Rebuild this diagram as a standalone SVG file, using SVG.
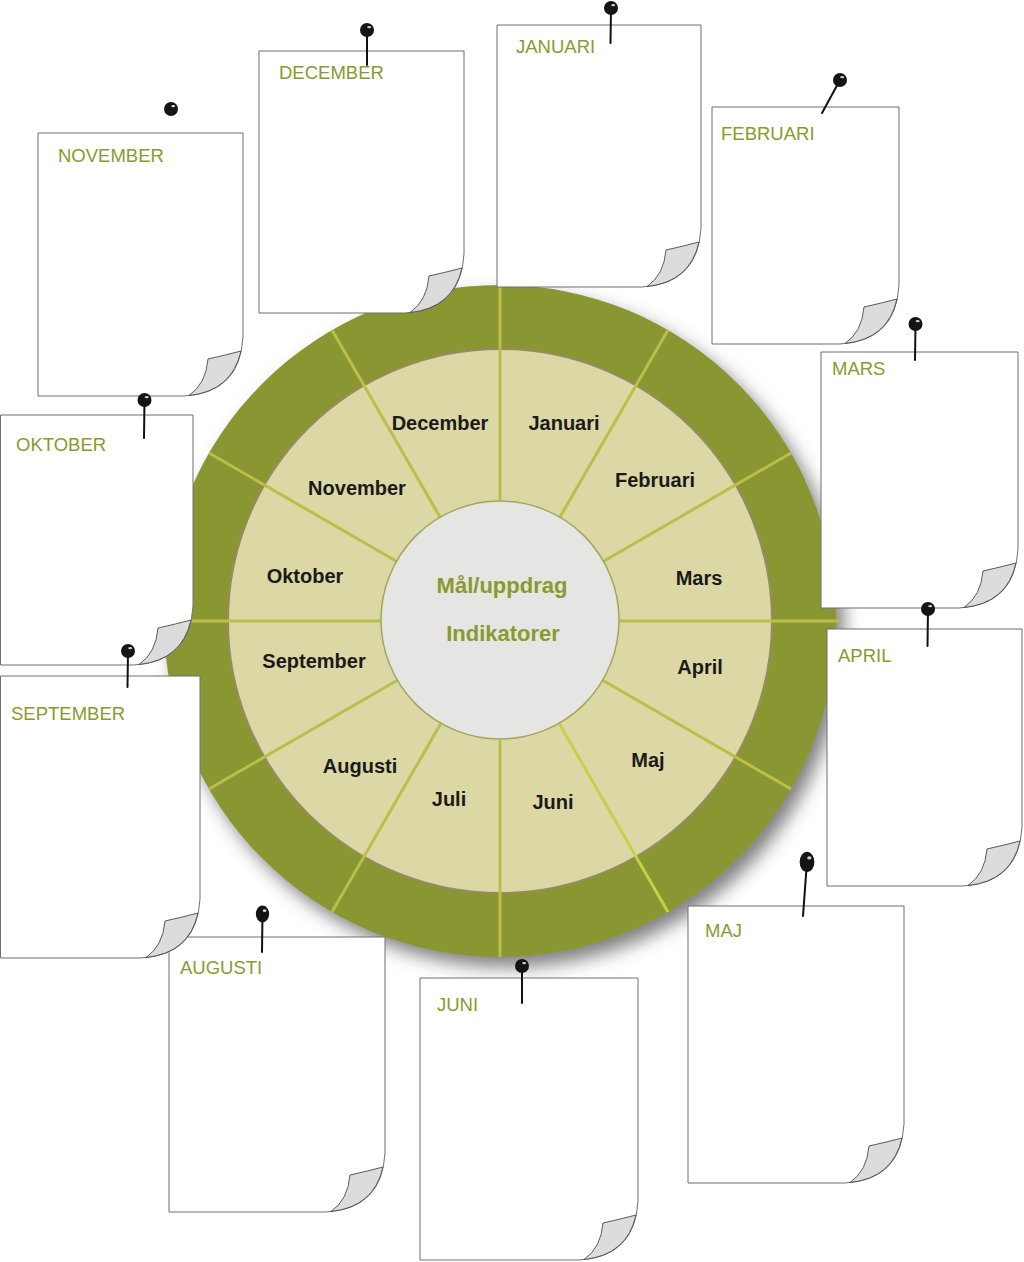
<svg xmlns="http://www.w3.org/2000/svg" xmlns:xlink="http://www.w3.org/1999/xlink" width="1024" height="1262" viewBox="0 0 1024 1262">
<style>
.note{fill:#ffffff;stroke:#6e6e6e;stroke-width:1}
.fold{fill:#dcdcdc;stroke:#4a4a4a;stroke-width:0.9}
.ntitle{font-family:"Liberation Sans",Arial,sans-serif;font-size:18.5px;fill:#8a9a2e}
.stem{stroke:#111;stroke-width:2;stroke-linecap:round}
.wl{font-family:"Liberation Sans",Arial,sans-serif;font-size:20px;font-weight:bold;fill:#1a1a1a;text-anchor:middle}
.cl{font-family:"Liberation Sans",Arial,sans-serif;font-size:22px;font-weight:bold;fill:#8a9a2e;text-anchor:middle}
.div{stroke:#bcbe4a;stroke-width:3}
</style>
<defs>
<filter id="sh" x="-20%" y="-20%" width="140%" height="140%">
<feGaussianBlur in="SourceAlpha" stdDeviation="9"/>
<feOffset dx="8" dy="10" result="b"/>
<feFlood flood-color="#555" flood-opacity="0.75"/>
<feComposite in2="b" operator="in"/>
<feMerge><feMergeNode/><feMergeNode in="SourceGraphic"/></feMerge>
</filter>
<path id="fold" class="fold" d="M-35,-37 Q-17,-41 -2,-45 Q-11,-5 -54,-0.5 Q-37,-12 -35,-37 Z"/>
<g id="pin"><circle r="7" fill="#141414"/><ellipse cx="2.2" cy="-2.8" rx="2" ry="1.1" fill="#fff" opacity="0.8"/></g>
</defs>
<rect width="1024" height="1262" fill="#fff"/>

<g id="wheel">
<circle cx="500" cy="621" r="336" fill="#8a9632" filter="url(#sh)"/>
<circle cx="500" cy="621" r="272" fill="#dcd8a5" stroke="#978b63" stroke-width="2"/>
<g id="dividers">
<line class="div" x1="619" y1="621" x2="840" y2="621"/>
<line class="div" x1="603.1" y1="561.5" x2="791" y2="453"/>
<line class="div" x1="559.5" y1="517.9" x2="668" y2="330"/>
<line class="div" x1="500" y1="502" x2="500" y2="285"/>
<line class="div" x1="440.5" y1="517.9" x2="332" y2="330"/>
<line class="div" x1="396.9" y1="561.5" x2="209" y2="453"/>
<line class="div" x1="381" y1="621" x2="164" y2="621"/>
<line class="div" x1="396.9" y1="680.5" x2="209" y2="789"/>
<line class="div" x1="440.5" y1="724.1" x2="332" y2="912"/>
<line class="div" x1="500" y1="740" x2="500" y2="957"/>
<line class="div" x1="559.5" y1="724.1" x2="668" y2="912" style="stroke:#c6d14a"/>
<line class="div" x1="603.1" y1="680.5" x2="791" y2="789"/>
</g>
<circle cx="500" cy="620" r="119" fill="#e5e5e3" stroke="#a5a65c" stroke-width="1.5"/>
<text class="wl" x="440" y="430">December</text>
<text class="wl" x="564" y="430">Januari</text>
<text class="wl" x="655" y="487">Februari</text>
<text class="wl" x="699" y="585">Mars</text>
<text class="wl" x="700" y="674">April</text>
<text class="wl" x="648" y="767">Maj</text>
<text class="wl" x="553" y="809">Juni</text>
<text class="wl" x="449" y="806">Juli</text>
<text class="wl" x="360" y="773">Augusti</text>
<text class="wl" x="314" y="668">September</text>
<text class="wl" x="305" y="583">Oktober</text>
<text class="wl" x="357" y="495">November</text>
<text class="cl" x="502" y="593">Mål/uppdrag</text>
<text class="cl" x="503" y="641">Indikatorer</text>
</g>

<g id="note-november">
<path class="note" d="M38,133 H243 V337 Q240,393 184,396 H38 Z"/>
<use xlink:href="#fold" transform="translate(243,396)"/>
<text class="ntitle" x="58" y="162">NOVEMBER</text>
<use xlink:href="#pin" transform="translate(171,109)"/>
</g>
<g id="note-december">
<path class="note" d="M259,51 H464 V254 Q461,310 405,313 H259 Z"/>
<use xlink:href="#fold" transform="translate(464,313)"/>
<text class="ntitle" x="279" y="79">DECEMBER</text>
<line class="stem" x1="367" y1="30" x2="367" y2="65"/>
<use xlink:href="#pin" transform="translate(367,30)"/>
</g>
<g id="note-januari">
<path class="note" d="M497,25 H701 V228 Q698,284 642,287 H497 Z"/>
<use xlink:href="#fold" transform="translate(701,287)"/>
<text class="ntitle" x="516" y="53">JANUARI</text>
<line class="stem" x1="611" y1="8" x2="610.5" y2="43"/>
<use xlink:href="#pin" transform="translate(611,8)"/>
</g>
<g id="note-februari">
<path class="note" d="M712,107 H899 V285 Q896,341 840,344 H712 Z"/>
<use xlink:href="#fold" transform="translate(899,344)"/>
<text class="ntitle" x="721" y="140">FEBRUARI</text>
<line class="stem" x1="840" y1="80" x2="822" y2="113"/>
<use xlink:href="#pin" transform="translate(840,80)"/>
</g>
<g id="note-mars">
<path class="note" d="M821,352 H1018 V549 Q1015,605 959,608 H821 Z"/>
<use xlink:href="#fold" transform="translate(1018,608)"/>
<text class="ntitle" x="832" y="375">MARS</text>
<line class="stem" x1="915.5" y1="324" x2="915" y2="360"/>
<use xlink:href="#pin" transform="translate(915.5,324)"/>
</g>
<g id="note-april">
<path class="note" d="M827,629 H1022 V827 Q1019,883 963,886 H827 Z"/>
<use xlink:href="#fold" transform="translate(1022,886)"/>
<text class="ntitle" x="838" y="662">APRIL</text>
<line class="stem" x1="928" y1="609" x2="927.5" y2="646"/>
<use xlink:href="#pin" transform="translate(928,609)"/>
</g>
<g id="note-maj">
<path class="note" d="M688,906 H904 V1124 Q901,1180 845,1183 H688 Z"/>
<use xlink:href="#fold" transform="translate(904,1183)"/>
<text class="ntitle" x="705" y="937">MAJ</text>
<line class="stem" x1="807" y1="861" x2="803" y2="916"/>
<use xlink:href="#pin" transform="translate(807,862) scale(1.05,1.45)"/>
</g>
<g id="note-juni">
<path class="note" d="M420,978 H638 V1201 Q635,1257 579,1260 H420 Z"/>
<use xlink:href="#fold" transform="translate(638,1260)"/>
<text class="ntitle" x="437" y="1011">JUNI</text>
<line class="stem" x1="522" y1="966" x2="522" y2="1003"/>
<use xlink:href="#pin" transform="translate(522,966)"/>
</g>
<g id="note-augusti">
<path class="note" d="M169,937 H385 V1153 Q382,1209 326,1212 H169 Z"/>
<use xlink:href="#fold" transform="translate(385,1212)"/>
<text class="ntitle" x="180" y="974">AUGUSTI</text>
<line class="stem" x1="262.5" y1="913" x2="262" y2="952"/>
<use xlink:href="#pin" transform="translate(262.5,914) scale(0.95,1.2)"/>
</g>
<g id="note-oktober">
<path class="note" d="M0.5,415 H193 V606 Q190,662 134,665 H0.5 Z"/>
<use xlink:href="#fold" transform="translate(193,665)"/>
<text class="ntitle" x="16" y="451">OKTOBER</text>
<line class="stem" x1="144.5" y1="400" x2="144" y2="438"/>
<use xlink:href="#pin" transform="translate(144.5,400)"/>
</g>
<g id="note-september">
<path class="note" d="M0.5,676 H200 V899 Q197,955 141,958 H0.5 Z"/>
<use xlink:href="#fold" transform="translate(200,958)"/>
<text class="ntitle" x="11" y="720">SEPTEMBER</text>
<line class="stem" x1="128" y1="651" x2="127.5" y2="687"/>
<use xlink:href="#pin" transform="translate(128,651)"/>
</g>
</svg>
